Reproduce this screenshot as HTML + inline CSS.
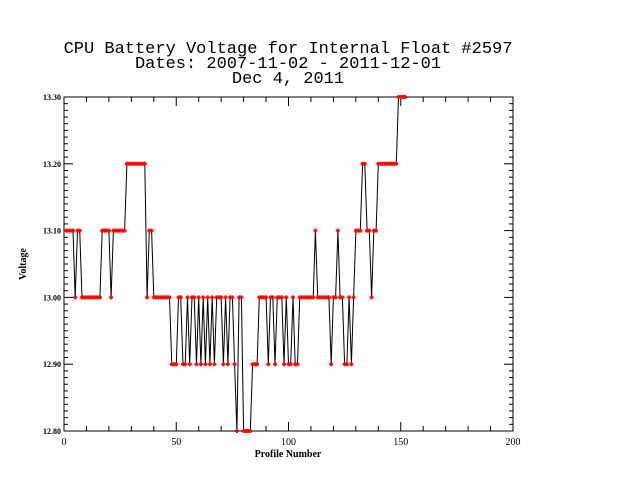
<!DOCTYPE html>
<html><head><meta charset="utf-8"><style>
body{margin:0;background:#fff;width:640px;height:480px;overflow:hidden}
svg text{font-family:"Liberation Serif",serif}
</style></head><body>
<svg id="c" width="640" height="480">
<text x="288" y="53" text-anchor="middle" style="font-family:'Liberation Mono',monospace;font-size:17px">CPU Battery Voltage for Internal Float #2597</text>
<text x="288" y="68" text-anchor="middle" style="font-family:'Liberation Mono',monospace;font-size:17px">Dates:  2007-11-02 -  2011-12-01</text>
<text x="288" y="83" text-anchor="middle" style="font-family:'Liberation Mono',monospace;font-size:17px">Dec  4, 2011</text>
<text x="288" y="457" text-anchor="middle" font-size="10" font-weight="bold">Profile Number</text>
<text x="26" y="264" text-anchor="middle" font-size="10" font-weight="bold" transform="rotate(-90 26 264)">Voltage</text>
<g id="ax"></g><g id="marks"></g>
</svg>
<script>
const xTicks=[0,50,100,150,200];
const yTicks=[12.8,12.9,13.0,13.1,13.2,13.3];
const yLabels=["12.80","12.90","13.00","13.10","13.20","13.30"];
const voltage=[13.1,13.1,13.1,13.1,13.0,13.1,13.1,13.0,13.0,13.0,13.0,13.0,13.0,13.0,13.0,13.0,13.1,13.1,13.1,13.1,13.0,13.1,13.1,13.1,13.1,13.1,13.1,13.2,13.2,13.2,13.2,13.2,13.2,13.2,13.2,13.2,13.0,13.1,13.1,13.0,13.0,13.0,13.0,13.0,13.0,13.0,13.0,12.9,12.9,12.9,13.0,13.0,12.9,12.9,13.0,12.9,13.0,13.0,12.9,13.0,12.9,13.0,12.9,13.0,12.9,13.0,12.9,13.0,13.0,13.0,12.9,13.0,12.9,13.0,13.0,12.9,12.8,13.0,13.0,12.8,12.8,12.8,12.8,12.9,12.9,12.9,13.0,13.0,13.0,13.0,12.9,13.0,13.0,12.9,13.0,13.0,13.0,12.9,13.0,12.9,12.9,13.0,12.9,12.9,13.0,13.0,13.0,13.0,13.0,13.0,13.0,13.1,13.0,13.0,13.0,13.0,13.0,13.0,12.9,13.0,13.0,13.1,13.0,13.0,12.9,12.9,13.0,12.9,13.0,13.1,13.1,13.1,13.2,13.2,13.1,13.1,13.0,13.1,13.1,13.2,13.2,13.2,13.2,13.2,13.2,13.2,13.2,13.2,13.3,13.3,13.3,13.3];
const X0=64,X1=513,Y0=431,Y1=97;
const sx=v=>X0+(v-0)/(200-0)*(X1-X0);
const sy=v=>Y0-(v-12.8)/(13.3-12.8)*(Y0-Y1);
const NS="http://www.w3.org/2000/svg";
const ax=document.getElementById('ax'),mk=document.getElementById('marks');
function el(t,a,p){const e=document.createElementNS(NS,t);for(const k in a)e.setAttribute(k,a[k]);p.appendChild(e);return e;}
const frame=el('rect',{x:X0,y:Y1,width:X1-X0,height:Y0-Y1,fill:'none',stroke:'#000','stroke-width':1},ax);


for(let v=0;v<=200;v+=10){const x=sx(v),L=(v%50===0)?9:5;
el('line',{x1:x,x2:x,y1:Y0,y2:Y0-L,stroke:'#000'},ax);el('line',{x1:x,x2:x,y1:Y1,y2:Y1+L,stroke:'#000'},ax);}
xTicks.forEach(v=>{const t=el('text',{x:sx(v),y:Y0+14,'text-anchor':'middle','font-size':10},ax);t.textContent=v;

});
for(let i=0;i<=50;i++){const v=12.8+i*0.01,y=sy(v),L=(i%10===0)?9:4;
el('line',{x1:X0,x2:X0+L,y1:y,y2:y,stroke:'#000'},ax);el('line',{x1:X1,x2:X1-L,y1:y,y2:y,stroke:'#000'},ax);}
yTicks.forEach((v,i)=>{const t=el('text',{x:X0-3,y:sy(v)+3,'text-anchor':'end','font-size':8,'font-weight':'bold'},ax);t.textContent=yLabels[i];

});
const pts=voltage.map((v,i)=>sx(i+1).toFixed(1)+','+sy(v).toFixed(1)).join(' ');
const pl=el('polyline',{points:pts,fill:'none',stroke:'#000','stroke-width':1},mk);


voltage.forEach((v,i)=>{const x=sx(i+1),y=sy(v);
const g=el('path',{d:`M${x-2},${y}H${x+2}M${x},${y-2}V${y+2}`,stroke:'#f00','stroke-width':2},mk);

});
</script>
</body></html>
